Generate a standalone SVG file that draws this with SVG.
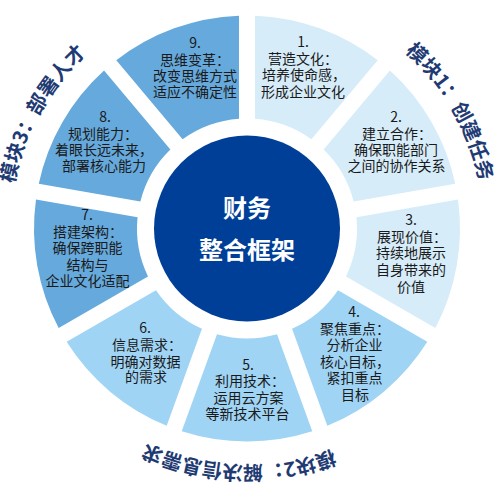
<svg xmlns="http://www.w3.org/2000/svg" xmlns:xlink="http://www.w3.org/1999/xlink" width="500" height="490" viewBox="0 0 500 490">
<style>
.t{font-family:"Microsoft YaHei","Noto Sans CJK SC","Noto Sans",sans-serif;font-size:14px;fill:#1a1a1a;text-anchor:middle}
.c{font-family:"Noto Sans CJK SC","Noto Sans",sans-serif;font-size:24px;font-weight:bold;fill:#ffffff;text-anchor:middle}
.m{font-family:"Noto Sans CJK SC","Noto Sans",sans-serif;font-size:20px;font-weight:bold;fill:#1f3b73}
.g1{fill:#d6ecf9}
.g2{fill:#a0d4f5}
.g3{fill:#66a9dc}
</style>
<defs>
<path id="seg" d="M 255.00 15.65 A 213 213 0 0 1 377.69 60.30 L 311.39 139.32 A 110 110 0 0 0 255.00 118.79 Z"/>
<path id="ring" d="M 10 228.5 A 237 237 0 1 1 484 228.5 A 237 237 0 1 1 10 228.5"/>
</defs>
<rect width="500" height="490" fill="#ffffff"/>
<g id="connectors"></g>
<g id="node1"><use xlink:href="#seg" class="g1"/>
<text class="t" x="303"><tspan x="303" y="47">1.</tspan><tspan x="303" y="63.5">营造文化：</tspan><tspan x="304" y="80">培养使命感，</tspan><tspan x="303" y="96.5">形成企业文化</tspan></text></g>
<g id="node2"><use xlink:href="#seg" class="g1" transform="rotate(40 247 228.5)"/>
<text class="t"><tspan x="396" y="122">2.</tspan><tspan x="397" y="138.5">建立合作：</tspan><tspan x="396" y="154.5">确保职能部门</tspan><tspan x="396.5" y="171">之间的协作关系</tspan></text></g>
<g id="node3"><use xlink:href="#seg" class="g1" transform="rotate(80 247 228.5)"/>
<text class="t"><tspan x="411" y="225">3.</tspan><tspan x="412" y="241.5">展现价值：</tspan><tspan x="411" y="258">持续地展示</tspan><tspan x="411" y="275">自身带来的</tspan><tspan x="411" y="291.5">价值</tspan></text></g>
<g id="node4"><use xlink:href="#seg" class="g2" transform="rotate(120 247 228.5)"/>
<text class="t"><tspan x="354" y="317">4.</tspan><tspan x="355" y="333.5">聚焦重点：</tspan><tspan x="354.5" y="350">分析企业</tspan><tspan x="355" y="366.5">核心目标，</tspan><tspan x="354.5" y="383">紧扣重点</tspan><tspan x="355" y="399.5">目标</tspan></text></g>
<g id="node5"><use xlink:href="#seg" class="g2" transform="rotate(160 247 228.5)"/>
<text class="t"><tspan x="248" y="370">5.</tspan><tspan x="250" y="386">利用技术：</tspan><tspan x="248.5" y="402.5">运用云方案</tspan><tspan x="247.5" y="418.5">等新技术平台</tspan></text></g>
<g id="node6"><use xlink:href="#seg" class="g2" transform="rotate(200 247 228.5)"/>
<text class="t"><tspan x="145" y="333">6.</tspan><tspan x="147" y="350">信息需求：</tspan><tspan x="145.5" y="366.5">明确对数据</tspan><tspan x="146" y="382">的需求</tspan></text></g>
<g id="node7"><use xlink:href="#seg" class="g3" transform="rotate(240 247 228.5)"/>
<text class="t"><tspan x="87" y="220">7.</tspan><tspan x="88" y="236.5">搭建架构：</tspan><tspan x="87.5" y="253">确保跨职能</tspan><tspan x="87.5" y="269.5">结构与</tspan><tspan x="87.5" y="286">企业文化适配</tspan></text></g>
<g id="node8"><use xlink:href="#seg" class="g3" transform="rotate(280 247 228.5)"/>
<text class="t"><tspan x="105" y="122">8.</tspan><tspan x="103" y="138.5">规划能力：</tspan><tspan x="104" y="155">着眼长远未来，</tspan><tspan x="104" y="171">部署核心能力</tspan></text></g>
<g id="node9"><use xlink:href="#seg" class="g3" transform="rotate(320 247 228.5)"/>
<text class="t"><tspan x="195" y="48">9.</tspan><tspan x="195" y="64.5">思维变革：</tspan><tspan x="195" y="81">改变思维方式</tspan><tspan x="195" y="97">适应不确定性</tspan></text></g>
<g id="center"><circle cx="247" cy="228.5" r="93" fill="#003f98"/>
<text class="c" x="247" y="217">财务</text><text class="c" x="247" y="259">整合框架</text></g>
<g id="module1"><text class="m"><textPath xlink:href="#ring" startOffset="545">模块1：创建任务</textPath></text></g>
<g id="module2"><text class="m"><textPath xlink:href="#ring" startOffset="1029">模块2：解决信息需求</textPath></text></g>
<g id="module3"><text class="m"><textPath xlink:href="#ring" startOffset="45">模块3：部署人才</textPath></text></g>
</svg>
